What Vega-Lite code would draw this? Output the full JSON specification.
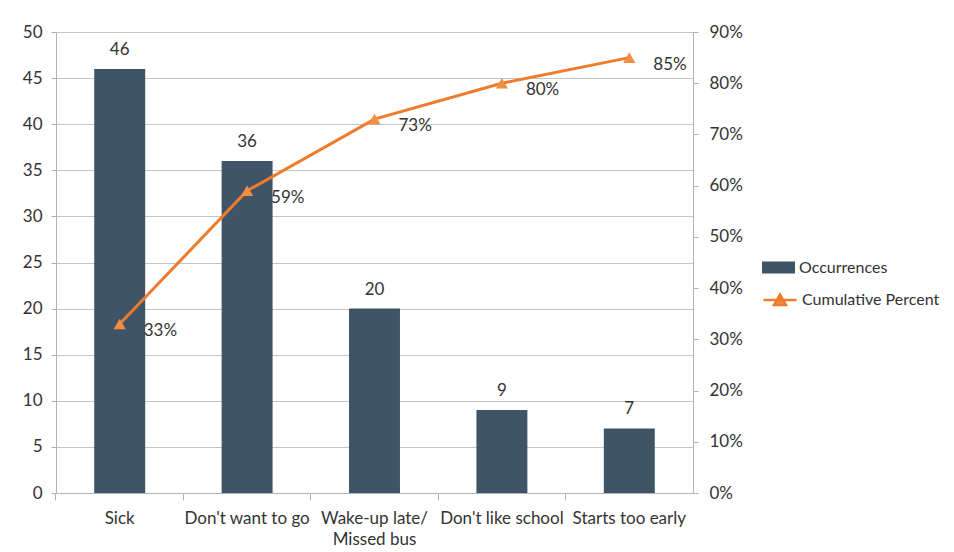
{
  "$schema": "https://vega.github.io/schema/vega-lite/v6.json",
  "width": 637,
  "height": 461,
  "autosize": {"type": "none"},
  "padding": {"left": 56, "top": 32, "right": 261, "bottom": 59},
  "background": "white",
  "config": {
    "font": "Lato",
    "view": {"stroke": null},
    "axis": {
      "labelFont": "Lato",
      "labelFontSize": 17,
      "labelColor": "#333333",
      "domainColor": "#b3b3b3",
      "tickColor": "#b3b3b3",
      "gridColor": "#c4c4c4",
      "title": null
    },
    "legend": {"labelFont": "Lato", "labelFontSize": 16, "labelColor": "#333333"}
  },
  "data": {
    "values": [
      {"reason": "Sick", "count": 46, "cum": 0.33},
      {"reason": "Don't want to go", "count": 36, "cum": 0.59},
      {"reason": "Wake-up late/ Missed bus", "count": 20, "cum": 0.73},
      {"reason": "Don't like school", "count": 9, "cum": 0.80},
      {"reason": "Starts too early", "count": 7, "cum": 0.85}
    ]
  },
  "layer": [
    {
      "encoding": {
        "x": {
          "field": "reason", "type": "nominal", "sort": null,
          "scale": {"paddingInner": 0.6, "paddingOuter": 0.3},
          "axis": {
            "orient": "bottom",
            "labelAngle": 0, "ticks": false, "labelPadding": 17, "domain": true,
            "labelLineHeight": 21, "labelBaseline": "top",
            "labelExpr": "datum.value == 'Wake-up late/ Missed bus' ? ['Wake-up late/', 'Missed bus'] : datum.label"
          }
        },
        "y": {
          "field": "count", "type": "quantitative",
          "scale": {"domain": [0, 50], "nice": false},
          "axis": {"values": [0, 5, 10, 15, 20, 25, 30, 35, 40, 45, 50], "grid": true, "tickSize": 5, "labelPadding": 9}
        }
      },
      "layer": [
        {
          "mark": {"type": "bar", "color": "#405468"},
          "encoding": {
            "fill": {
              "datum": "Occurrences",
              "scale": {"range": ["#405468"]},
              "legend": {
                "orient": "none", "legendX": 706, "legendY": 219, "title": null,
                "symbolType": "M-1,-0.36 H1 V0.36 H-1 Z", "symbolSize": 1089,
                "symbolStrokeWidth": 0, "labelOffset": 4
              }
            }
          }
        },
        {
          "mark": {"type": "text", "dy": -10, "baseline": "bottom", "fontSize": 17, "color": "#333333"},
          "encoding": {"text": {"field": "count", "type": "quantitative"}}
        }
      ]
    },
    {
      "encoding": {
        "x": {
          "field": "reason", "type": "nominal", "sort": null,
          "axis": {"orient": "bottom", "labels": false, "ticks": true, "domain": false, "tickSize": 7, "bandPosition": -0.75}
        },
        "y": {
          "field": "cum", "type": "quantitative",
          "scale": {"domain": [0, 0.9], "nice": false},
          "axis": {"orient": "right", "format": ".0%", "values": [0, 0.1, 0.2, 0.3, 0.4, 0.5, 0.6, 0.7, 0.8, 0.9], "grid": false, "tickSize": 5, "labelPadding": 11}
        }
      },
      "layer": [
        {
          "mark": {"type": "line", "strokeWidth": 3},
          "encoding": {
            "stroke": {
              "datum": "Cumulative Percent",
              "scale": {"range": ["#ef7b2c"]},
              "legend": {
                "orient": "none", "legendX": 706, "legendY": 250, "title": null,
                "symbolType": "M-1,0 H1 M-0.36,0.3 L0,-0.33 L0.36,0.3 Z", "symbolSize": 1089,
                "symbolStrokeWidth": 2.5, "symbolFillColor": "#f08a3c", "labelOffset": 4
              }
            }
          }
        },
        {
          "mark": {"type": "point", "shape": "triangle-up", "filled": true, "size": 150, "color": "#f28e3f", "opacity": 1}
        },
        {
          "mark": {"type": "text", "align": "left", "baseline": "middle", "dx": 24, "dy": 7, "fontSize": 17, "color": "#333333"},
          "encoding": {"text": {"field": "cum", "type": "quantitative", "format": ".0%"}}
        }
      ]
    }
  ],
  "resolve": {"scale": {"y": "independent"}, "axis": {"x": "independent"}}
}
